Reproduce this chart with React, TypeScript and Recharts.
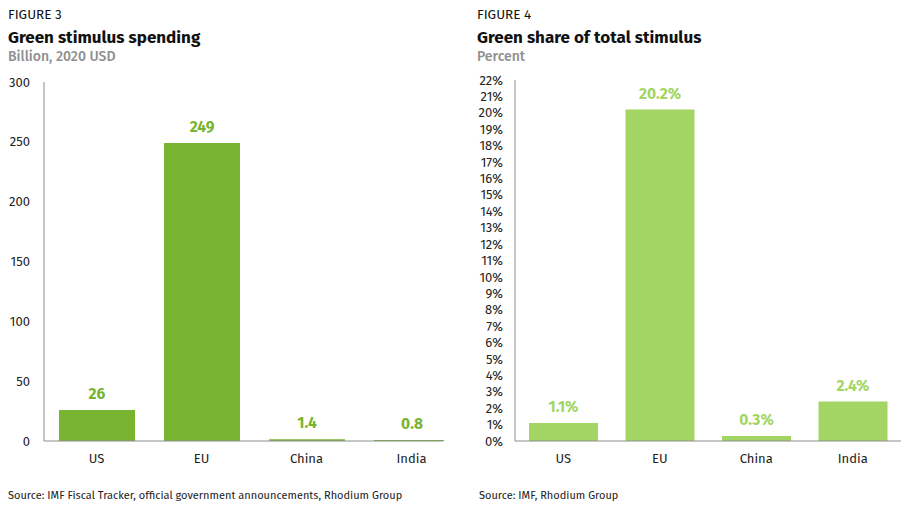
import React from 'react';
import { BarChart, Bar, XAxis, YAxis, LabelList } from 'recharts';

const countries = ['US', 'EU', 'China', 'India'];
const spending = [26, 249, 1.4, 0.8];
const spendingLabels = ['26', '249', '1.4', '0.8'];
const greenShare = [1.1, 20.2, 0.3, 2.4];
const spendingTicks = [0, 50, 100, 150, 200, 250, 300];
const shareTicks = [0, 1, 2, 3, 4, 5, 6, 7, 8, 9, 10, 11, 12, 13, 14, 15, 16, 17, 18, 19, 20, 21, 22];

const spendingData = countries.map((c, i) => ({ name: c, value: spending[i], label: spendingLabels[i] }));
const shareData = countries.map((c, i) => ({ name: c, value: greenShare[i], label: greenShare[i].toFixed(1) + '%' }));

const FONT = '"Fira Sans", "Noto Sans", sans-serif';
const axisColor = '#8c8c8c';
const tickStyle = { fill: '#222', fontSize: 13, fontFamily: FONT };

const Header: React.FC<{ left: number; fig: string; title: string; sub: string }> = ({ left, fig, title, sub }) => (
  <div style={{ position: 'absolute', left, top: 8, fontFamily: FONT, lineHeight: 1 }}>
    <div style={{ fontSize: 13.5, color: '#111', height: 21 }}>{fig}</div>
    <div style={{ fontSize: 17, fontWeight: 700, color: '#111', height: 21 }}>{title}</div>
    <div style={{ fontSize: 14, fontWeight: 500, color: '#8f8f8f' }}>{sub}</div>
  </div>
);

const App: React.FC = () => {
  return (
    <div style={{ position: 'absolute', left: 0, top: 0, width: 908, height: 514, background: '#fff', overflow: 'hidden' }}>
      <Header left={8} fig="FIGURE 3" title="Green stimulus spending" sub="Billion, 2020 USD" />
      <Header left={477} fig="FIGURE 4" title="Green share of total stimulus" sub="Percent" />

      <div style={{ position: 'absolute', left: 0, top: 0, width: 444, overflow: 'hidden' }}>
        <BarChart width={470} height={514} data={spendingData} margin={{ top: 82, right: 27, bottom: 43, left: 0 }}>
          <YAxis
            width={44}
            domain={[0, 300]}
            ticks={spendingTicks}
            tickLine={false}
            tickSize={0}
            tickMargin={14}
            axisLine={{ stroke: axisColor }}
            tick={tickStyle}
            interval={0}
          />
          <XAxis
            dataKey="name"
            height={30}
            padding={{ left: 0, right: -21 }}
            tickLine={false}
            tickMargin={7}
            axisLine={{ stroke: axisColor }}
            tick={tickStyle}
          />
          <Bar dataKey="value" fill="#78b430" barSize={76} isAnimationActive={false}>
            <LabelList
              dataKey="label"
              position="top"
              offset={11}
              style={{ fill: '#78b430', fontSize: 15.5, fontWeight: 700, fontFamily: FONT }}
            />
          </Bar>
        </BarChart>
      </div>

      <div style={{ position: 'absolute', left: 470, top: 0 }}>
        <BarChart width={438} height={514} data={shareData} margin={{ top: 80, right: 7, bottom: 43, left: 0 }}>
          <YAxis
            width={45}
            domain={[0, 22]}
            ticks={shareTicks}
            interval={0}
            tickFormatter={(v: number) => `${v}%`}
            tickLine={false}
            tickSize={0}
            tickMargin={12}
            axisLine={{ stroke: axisColor }}
            tick={tickStyle}
          />
          <XAxis
            dataKey="name"
            height={30}
            tickLine={false}
            tickMargin={7}
            axisLine={{ stroke: axisColor }}
            tick={tickStyle}
          />
          <Bar dataKey="value" fill="#a2d563" barSize={69} isAnimationActive={false}>
            <LabelList
              dataKey="label"
              position="top"
              offset={11}
              style={{ fill: '#a2d563', fontSize: 15.5, fontWeight: 700, fontFamily: FONT }}
            />
          </Bar>
        </BarChart>
      </div>

      <div style={{ position: 'absolute', left: 8, top: 489, fontFamily: FONT, fontSize: 11, color: '#222' }}>
        Source: IMF Fiscal Tracker, official government announcements, Rhodium Group
      </div>
      <div style={{ position: 'absolute', left: 479, top: 489, fontFamily: FONT, fontSize: 11, color: '#222' }}>
        Source: IMF, Rhodium Group
      </div>
    </div>
  );
};

export default App;
